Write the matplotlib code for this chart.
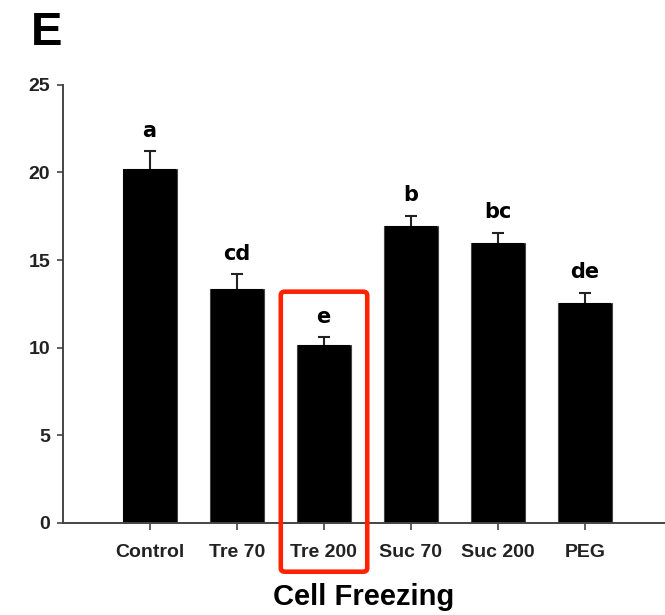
import matplotlib
matplotlib.use('Agg')
import matplotlib.pyplot as plt
from matplotlib.patches import FancyBboxPatch

# 数据
groups = ['Control', 'Tre 70', 'Tre 200', 'Suc 70', 'Suc 200', 'PEG']
means = [20.2, 13.35, 10.15, 16.95, 16.0, 12.55]
errs = [1.0, 0.85, 0.45, 0.57, 0.55, 0.6]
letters = ['a', 'cd', 'e', 'b', 'bc', 'de']

plt.rcParams['font.family'] = ['Liberation Sans', 'DejaVu Sans']

fig = plt.figure(figsize=(6.65, 6.15), dpi=100)
ax = fig.add_axes([0.094, 0.1496, 0.906, 0.7124])

x = list(range(len(groups)))
ax.bar(x, means, width=0.62, color='black', edgecolor='#444444', linewidth=0.8)
# 只画向上的误差线
ax.errorbar(x, means, yerr=errs, fmt='none', ecolor='#222222', elinewidth=1.5,
            capsize=4.6, capthick=1.5, lolims=False)
ax.bar(x, means, width=0.6, color='black', linewidth=0, zorder=3)

# 显著性字母
for xi, m, e, t in zip(x, means, errs, letters):
    ax.text(xi, m + e + 0.6, t, ha='center', va='bottom', fontsize=15,
            fontweight='bold', family='DejaVu Sans')

ax.set_xlim(-1, 5.92)
ax.set_ylim(0, 25)
ax.set_yticks([0, 5, 10, 15, 20, 25])
ax.set_xticks(x)
ax.set_xticklabels(groups)
ax.tick_params(axis='y', labelsize=14, length=4, width=1.2, color='#444444', pad=5)
ax.tick_params(axis='x', labelsize=14, length=5, width=1.2, color='#444444', pad=10)
for lab in ax.get_xticklabels() + ax.get_yticklabels():
    lab.set_fontweight('bold')
    lab.set_color('#222222')

for s in ['top', 'right']:
    ax.spines[s].set_visible(False)
for s in ['left', 'bottom']:
    ax.spines[s].set_linewidth(1.4)
    ax.spines[s].set_color('#444444')
    ax.spines[s].set_zorder(4)

ax.set_xlabel('Cell Freezing', fontsize=21, fontweight='bold', labelpad=16)

# 红框
rect = FancyBboxPatch((1.507, -2.78), 0.993, 15.98, boxstyle='round,pad=0,rounding_size=0.05',
                      mutation_aspect=4, fill=False, edgecolor='#ff2200',
                      linewidth=3.3, clip_on=False, zorder=5)
ax.add_patch(rect)

fig.text(0.046, 0.927, 'E', fontsize=34, fontweight='bold', va='baseline', ha='left')

plt.savefig('out.png', dpi=100)
